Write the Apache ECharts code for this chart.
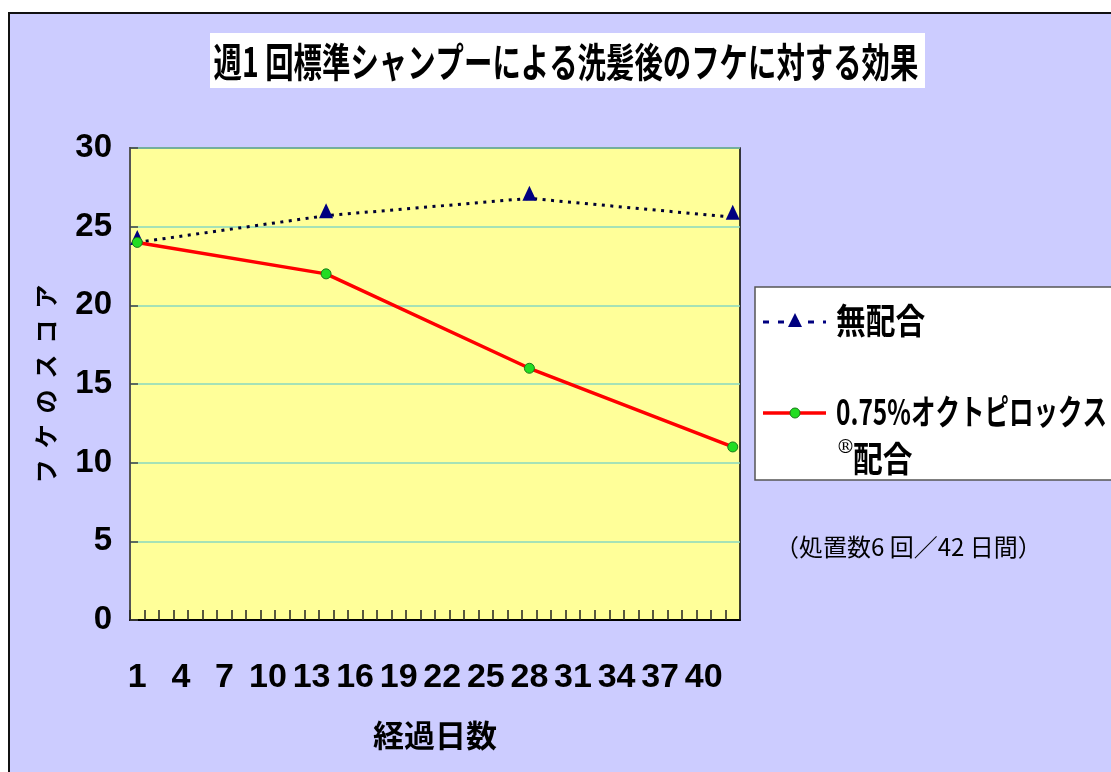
<!DOCTYPE html>
<html>
<head>
<meta charset="utf-8">
<script src="https://cdn.jsdelivr.net/npm/echarts@6/dist/echarts.min.js"></script>
<style>
html,body{margin:0;padding:0;background:#fff;}
#chart{width:1111px;height:772px;}
</style>
</head>
<body>
<div id="chart"></div>
<script>
// ---- data ----
const days = ['1','2','3','4','5','6','7','8','9','10','11','12','13','14','15','16','17','18','19','20','21','22','23','24','25','26','27','28','29','30','31','32','33','34','35','36','37','38','39','40','41','42'];
const yTicks = [0, 5, 10, 15, 20, 25, 30];
const measureDays = ['1', '14', '28', '42'];
const noneName = '無配合';
const noneScores = [24.0, 25.7, 26.8, 25.6];
const octoName = '0.75%オクトピロックス®配合';
const octoScores = [24, 22, 16, 11];
const titleText = '週1 回標準シャンプーによる洗髪後のフケに対する効果';
const noteText = '（処置数6 回／42 日間）';

const chart = echarts.init(document.getElementById('chart'), null, {renderer: 'canvas'});
const cjk = '"Noto Sans CJK JP", "Noto Sans", sans-serif';
const pair = (xs, ys) => xs.map((d, i) => [d, ys[i]]);

const option = {
  backgroundColor: '#ffffff',
  animation: false,
  graphic: [
    {type: 'rect', z: -10, silent: true, shape: {x: 9, y: 13, width: 1200, height: 800},
     style: {fill: '#CCCCFF', stroke: '#111', lineWidth: 2}},
    {type: 'rect', shape: {x: 210, y: 33, width: 715, height: 55}, style: {fill: '#fff'}},
    {type: 'text', x: 566, y: 62, scaleX: 0.71,
     style: {text: titleText, font: 'bold 40px ' + cjk, fill: '#000', textAlign: 'center', textVerticalAlign: 'middle'}},
    // legend box
    {type: 'rect', shape: {x: 755, y: 287, width: 420, height: 193}, style: {fill: '#fff', stroke: '#555', lineWidth: 1.5}},
    {type: 'line', shape: {x1: 763, y1: 322, x2: 826, y2: 322}, style: {stroke: '#000080', lineWidth: 3, lineDash: [6, 9]}},
    {type: 'polygon', shape: {points: [[795, 313], [802, 327], [788, 327]]}, style: {fill: '#000080'}},
    {type: 'text', x: 836, y: 321, scaleX: 0.85,
     style: {text: noneName, font: 'bold 35px ' + cjk, fill: '#000', textAlign: 'left', textVerticalAlign: 'middle'}},
    {type: 'line', shape: {x1: 763, y1: 413, x2: 826, y2: 413}, style: {stroke: '#FF0000', lineWidth: 3.5}},
    {type: 'circle', shape: {cx: 795, cy: 413, r: 5}, style: {fill: '#22DD22', stroke: '#1a7a1a', lineWidth: 1}},
    {type: 'text', x: 836, y: 412, scaleX: 0.7,
     style: {text: '0.75%オクトピロックス', font: 'bold 35px ' + cjk, fill: '#000', textAlign: 'left', textVerticalAlign: 'middle'}},
    {type: 'text', x: 836, y: 448,
     style: {text: '®', font: '19px "DejaVu Serif", serif', fill: '#000', textAlign: 'left', textVerticalAlign: 'middle'}},
    {type: 'text', x: 853, y: 459, scaleX: 0.85,
     style: {text: '配合', font: 'bold 35px ' + cjk, fill: '#000', textAlign: 'left', textVerticalAlign: 'middle'}},
    {type: 'text', x: 775, y: 547,
     style: {text: noteText, font: '24px ' + cjk, fill: '#000', textAlign: 'left', textVerticalAlign: 'middle'}}
  ],
  grid: {left: 130, top: 148, width: 610, height: 472, show: true, backgroundColor: '#FFFF99', borderColor: '#000', borderWidth: 1.5, containLabel: false},
  xAxis: {
    type: 'category', data: days, boundaryGap: true,
    name: '経過日数', nameLocation: 'middle', nameGap: 100,
    nameTextStyle: {fontFamily: cjk, fontWeight: 'bold', fontSize: 31, color: '#000'},
    axisLine: {lineStyle: {color: '#000', width: 2}},
    axisTick: {show: true, inside: true, length: 10, interval: 0, alignWithLabel: false, lineStyle: {color: '#222', width: 1.5}},
    axisLabel: {interval: 2, margin: 41, fontFamily: '"Liberation Sans Narrow", "Arial Narrow", "Liberation Sans", sans-serif', fontWeight: 'bold', fontSize: 34, color: '#000'},
    splitLine: {show: false}
  },
  yAxis: {
    type: 'value', min: 0, max: 30, interval: 5,
    name: 'フ  ケ  の  ス  コ  ア', nameLocation: 'middle', nameRotate: 90, nameGap: 72,
    nameTextStyle: {fontFamily: cjk, fontWeight: 'bold', fontSize: 24, color: '#000'},
    axisLine: {show: true, lineStyle: {color: '#555', width: 2}},
    axisTick: {show: true, inside: true, length: 8, lineStyle: {color: '#444', width: 1.5}},
    axisLabel: {margin: 18, fontFamily: '"Liberation Sans", Arial, sans-serif', fontWeight: 'bold', fontSize: 33, color: '#000',
      formatter: v => yTicks.includes(v) ? String(v) : ''},
    splitLine: {show: true, lineStyle: {color: '#88D8C0', width: 1.5}}
  },
  series: [
    {
      name: noneName, type: 'line', data: pair(measureDays, noneScores), connectNulls: true,
      showAllSymbol: true,
      symbol: 'triangle', symbolSize: [14, 15], symbolOffset: [0, -5],
      itemStyle: {color: '#000080'},
      lineStyle: {color: '#000033', width: 3, type: [3, 5.5]},
      z: 2
    },
    {
      name: octoName, type: 'line', data: pair(measureDays, octoScores), connectNulls: true,
      showAllSymbol: true,
      symbol: 'circle', symbolSize: 10,
      itemStyle: {color: '#22DD22', borderColor: '#1a7a1a', borderWidth: 1},
      lineStyle: {color: '#FF0000', width: 3.5},
      z: 3
    }
  ]
};
chart.setOption(option);
</script>
</body>
</html>
